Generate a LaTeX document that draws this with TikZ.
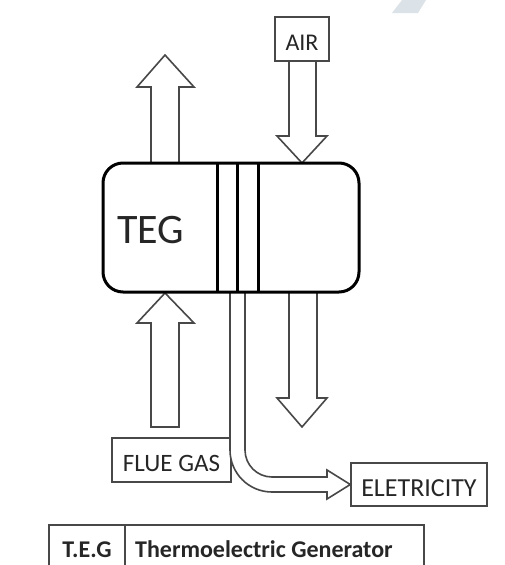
\documentclass[tikz,border=0pt]{standalone}
\usepackage{fontspec}
\setmainfont{Carlito}
\definecolor{txt}{HTML}{262626}
\definecolor{edge}{HTML}{484848}
\definecolor{wmark}{RGB}{220,227,232}
\tikzset{
  blockarrow/.style={draw=edge, line width=1.6pt, fill=white, line join=miter},
  labelbox/.style={draw=edge, line width=1.4pt, fill=white, inner sep=0pt,
     text=txt, font=\fontsize{25}{30}\selectfont, text height=23pt, text depth=0pt},
  divider/.style={line width=3pt, black},
  tableline/.style={draw=edge, line width=1.3pt},
  tabletext/.style={text=txt, font=\bfseries\fontsize{24}{28}\selectfont, inner sep=0pt}
}
\begin{document}
\begin{tikzpicture}[x=1pt, y=-1pt]
\useasboundingbox (0,0) rectangle (504,565);
\fill[white] (0,0) rectangle (504,565);
% watermark fragment
\fill[wmark] (402,0) -- (426,0) -- (418,13) -- (392,13) -- cycle;

% exhaust arrow (up)
\draw[blockarrow] (151,164) -- (151,87) -- (137,87) -- (165,55) -- (194,87) -- (179,87) -- (179,164);
% air arrow (down)
\draw[blockarrow] (289,61) -- (289,136) -- (277,136) -- (302,163) -- (327,136) -- (316,136) -- (316,61);
% flue gas arrow (up)
\draw[blockarrow] (151,427) -- (151,323) -- (137,323) -- (165,293) -- (194,323) -- (179,323) -- (179,427) -- cycle;
% cold air out (down)
\draw[blockarrow] (289,291) -- (289,398) -- (277,398) -- (302,427) -- (327,398) -- (317,398) -- (317,291);

% labels
\node[labelbox, minimum width=119pt, minimum height=44pt] (flue) at (171.5,460) {FLUE GAS};
\node[labelbox, minimum width=136pt, minimum height=43pt, font=\fontsize{26}{30}\selectfont] (elec) at (419,484.5) {ELETRICITY};
\node[labelbox, minimum width=54pt, minimum height=44pt, font=\fontsize{24}{28}\selectfont, text height=22pt] (air) at (302,39) {AIR};

% electricity curved arrow
\draw[blockarrow] (230,291) -- (230,450) arc[start angle=180, end angle=90, radius=42] -- (327,492) -- (327,499) -- (elec.west) -- (327,470) -- (327,477) -- (272,477) arc[start angle=90, end angle=180, radius=27] -- (245,291);

% main TEG box
\node[draw=black, line width=3pt, fill=white, rounded corners=20pt, minimum width=256pt, minimum height=129pt, inner sep=0pt] (teg) at (231,227.5) {};
\draw[divider] (217,163) -- (217,292);
\draw[divider] (237,163) -- (237,292);
\draw[divider] (258,163) -- (258,292);
\node[anchor=base west, text=txt, font=\fontsize{42}{50}\selectfont, inner sep=0pt] (teglabel) at (117,243) {TEG};

% legend table (cut off at bottom)
\draw[tableline] (49,566) -- (49,525) -- (424,525) -- (424,566);
\draw[tableline] (125,525) -- (125,566);
\node[tabletext, anchor=base] (abbr) at (87,557) {T.E.G};
\node[tabletext, anchor=base west] (full) at (135,557) {Thermoelectric Generator};
\end{tikzpicture}
\end{document}
